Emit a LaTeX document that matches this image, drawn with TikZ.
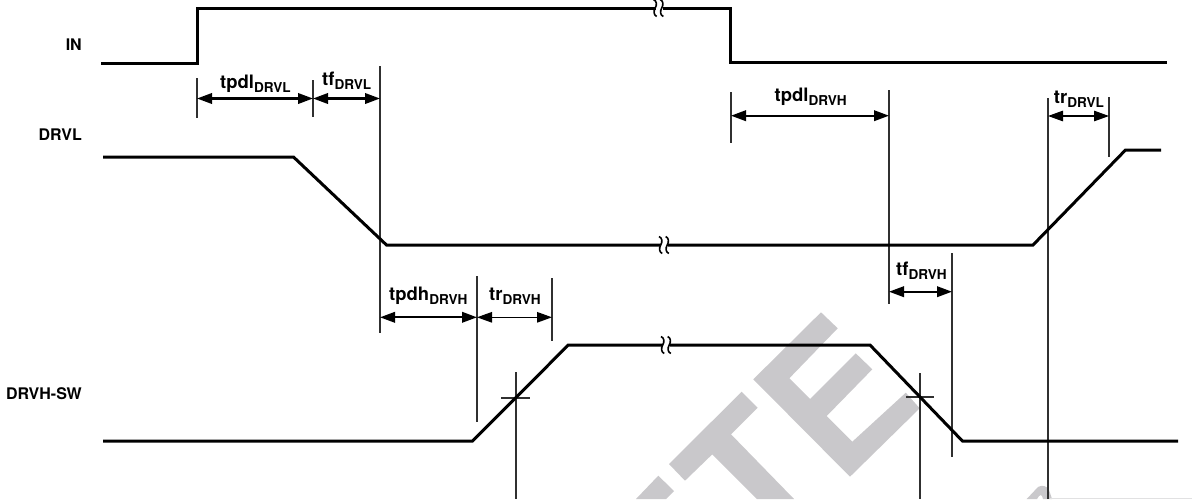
\documentclass[tikz,border=0pt]{standalone}
\usepackage{fontspec}
\setmainfont{TeX Gyre Heros}
\usetikzlibrary{arrows.meta}
\definecolor{wmark}{HTML}{C9C8CB}
\definecolor{guide}{HTML}{303030}
\tikzset{
  wave/.style={line width=3pt,black,line join=miter},
  guideline/.style={line width=1.05pt,guide},
  span/.style={line width=2.1pt,black,{Triangle[length=15pt,width=10.5pt]}-{Triangle[length=15pt,width=10.5pt]}},
  thinspan/.style={span,line width=1.2pt},
  signame/.style={anchor=east,inner sep=0pt,font=\bfseries\fontsize{16}{17}\selectfont},
  timing/.style={anchor=base west,inner sep=0pt,font=\bfseries\fontsize{18.5}{20}\selectfont},
  wmarkfill/.style={fill=wmark,draw=none},
  brk/.pic={
    \fill[white] (-3,-2) rectangle (4,2);
    \draw[line width=1.6pt,black] (-5,-8.5) .. controls (-1.5,-7) and (-1.5,-3) .. (-3.3,0) .. controls (-5,3) and (-5,7) .. (-1.8,8.5);
    \draw[line width=1.6pt,black] (1.7,-8.5) .. controls (5,-7) and (5,-3) .. (3.2,0) .. controls (1.5,3) and (1.5,7) .. (4.8,8.5);
  }
}
\newcommand{\tlab}[2]{#1\raisebox{-4.2pt}{\fontsize{13.6}{14}\selectfont #2}}
\begin{document}
\begin{tikzpicture}[x=1pt,y=-1pt]
\useasboundingbox (0,0) rectangle (1192,499);
\fill[white] (0,0) rectangle (1192,499);
% watermark
\fill[wmarkfill] (821,312.3) -- (837.7,328.3) -- (789.3,378.3) -- (810,399) -- (855.7,353.3) -- (872.3,369.3) -- (826.7,416) -- (852.3,441.7) -- (905.8,392.7) -- (919.7,408.3) -- (850,476.7) -- (753.3,379.3) -- cycle;
\fill[wmarkfill] (741.7,391.7) -- (757.7,407.7) -- (731,434.3) -- (794,499) -- (757,499) -- (712.3,454.3) -- (685,480.7) -- (669,464) -- cycle;
\fill[wmarkfill] (658.3,475.7) -- (674,491) -- (666,499) -- (636,499) -- cycle;
\fill[wmarkfill] (1026.7,499) -- (1038,487) .. controls (1042,484.5) and (1047,486) .. (1049,490) -- (1052,499) -- (1043,499) .. controls (1042,494) and (1040,493.5) .. (1037,499) -- cycle;
\fill[fill=wmark!55] (1050,498) rectangle (1192,499);
% guide lines
\draw[guideline] (197,78) -- (197,118);
\draw[guideline] (313,80) -- (313,117);
\draw[guideline] (380,66) -- (380,333);
\draw[guideline] (731,92) -- (731,143);
\draw[guideline] (889,90) -- (889,304);
\draw[guideline] (1048,98) -- (1048,499);
\draw[guideline] (1109,97) -- (1109,157);
\draw[guideline] (477,276) -- (477,422);
\draw[guideline] (552,278) -- (552,341);
\draw[guideline] (952,253) -- (952,457);
\draw[guideline] (516,372) -- (516,499);
\draw[guideline] (501,398) -- (530,398);
\draw[guideline] (920,373) -- (920,499);
\draw[guideline] (906,397) -- (934,397);
% waveforms
\draw[wave] (101,63) -- (197,63) -- (197,8) -- (730,8) -- (730,62.5) -- (1167,62.5);
\draw[wave] (103,157) -- (293.5,157) -- (386.5,245) -- (1033,245) -- (1125.5,150) -- (1161,150);
\draw[wave] (103,441) -- (472.6,441) -- (568.3,345) -- (870,345) -- (962.4,441) -- (1178,441);
\pic at (658.5,8) {brk};
\pic at (664,245) {brk};
\pic at (666,345) {brk};
% spans
\draw[span] (197,98.5) -- (313,98.5);
\draw[span] (313,98.5) -- (380,98.5);
\draw[span] (731,115.7) -- (889,115.7);
\draw[thinspan] (1048,116) -- (1109,116);
\draw[span] (380,317.3) -- (477,317.3);
\draw[thinspan] (477,317.3) -- (552,317.3);
\draw[span] (889,291.7) -- (952,291.7);
% labels
\node[signame] (sigin) at (82,45) {IN};
\node[signame] (sigl) at (82,135) {DRVL};
\node[signame] (sigh) at (82,394) {DRVH-SW};
\node[timing] (t1) at (220,88) {\tlab{tpdl}{DRVL}};
\node[timing] (t2) at (322,85) {\tlab{tf}{DRVL}};
\node[timing] (t3) at (774.4,101.7) {\tlab{tpdl}{DRVH}};
\node[timing] (t4) at (1053.7,103) {\tlab{tr}{DRVL}};
\node[timing] (t5) at (389,300) {\tlab{tpdh}{DRVH}};
\node[timing] (t6) at (489,300) {\tlab{tr}{DRVH}};
\node[timing] (t7) at (896,275) {\tlab{tf}{DRVH}};
\end{tikzpicture}
\end{document}
